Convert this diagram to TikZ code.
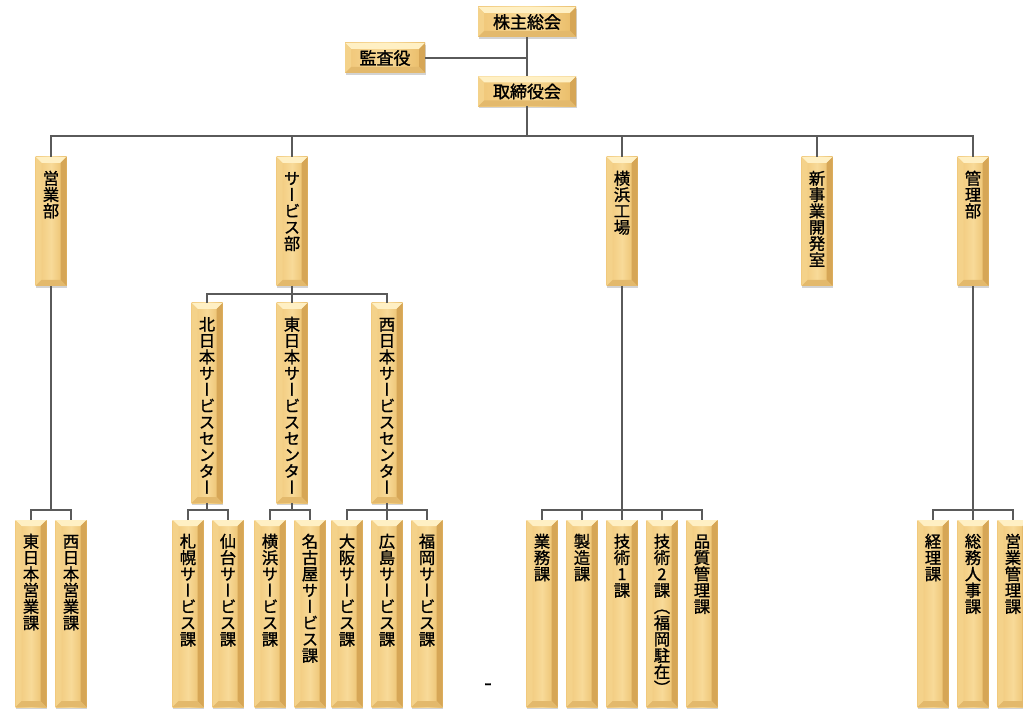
\documentclass[tikz,border=0pt]{standalone}
\usepackage{fontspec}
\setmainfont{Noto Sans CJK JP}
\newfontfamily\jpv[RawFeature=+vert, FakeBold=1.2]{Noto Sans CJK JP}
\newfontfamily\jph[FakeBold=1.4]{Noto Sans CJK JP}
\usetikzlibrary{shadows}
\definecolor{linec}{HTML}{5A5A5A}
\definecolor{gfl}{HTML}{F0C677}
\definecolor{gfm}{HTML}{F8DA98}
\definecolor{gfr}{HTML}{E9BB66}
\definecolor{btop}{HTML}{FFF0C4}
\definecolor{bleft}{HTML}{F4D28A}
\definecolor{bright}{HTML}{D6A656}
\definecolor{bbot}{HTML}{E3B96C}
\def\bv{6pt}
\newcommand\vst[2]{\parbox[c][#1][t]{31pt}{\centering\jpv\fontsize{16.3}{16.3}\selectfont\rule{0pt}{27.5pt}#2\par}}
\tikzset{
  goldbox/.style={inner sep=0pt, outer sep=0pt, draw=none,
    drop shadow={shadow xshift=0.6pt, shadow yshift=-2pt, opacity=0.35},
    path picture={
      \coordinate (pA) at (path picture bounding box.north west);
      \coordinate (pB) at (path picture bounding box.north east);
      \coordinate (pC) at (path picture bounding box.south east);
      \coordinate (pD) at (path picture bounding box.south west);
      \coordinate (qA) at ([xshift=\bv,yshift=-\bv]pA);
      \coordinate (qB) at ([xshift=-\bv,yshift=-\bv]pB);
      \coordinate (qC) at ([xshift=-\bv,yshift=\bv]pC);
      \coordinate (qD) at ([xshift=\bv,yshift=\bv]pD);
      \shade[left color=gfl, right color=gfr, middle color=gfm] (pA) rectangle (pC);
      \fill[btop] (pA) -- (pB) -- (qB) -- (qA) -- cycle;
      \fill[bleft] (pA) -- (qA) -- (qD) -- (pD) -- cycle;
      \fill[bright] (pB) -- (qB) -- (qC) -- (pC) -- cycle;
      \fill[bbot] (pD) -- (qD) -- (qC) -- (pC) -- cycle;
    }},
  hbox/.style={goldbox, minimum height=30pt, font=\jph\fontsize{17}{19}\selectfont},
  vbox/.style={goldbox, minimum width=31pt},
  conn/.style={draw=linec, line width=1.1pt},
}
\begin{document}
\begin{tikzpicture}[x=1pt,y=-1pt]
\useasboundingbox (0,0) rectangle (1023,711);
% top
\node[hbox, minimum width=98pt] (kabu) at (527,22) {株主総会};
\node[hbox, minimum width=80pt] (kansa) at (385,58) {監査役};
\node[hbox, minimum width=98pt] (tori) at (527,91.5) {取締役会};
% level 2
\node[vbox] (eigyo) at (51,221.5) {\vst{129pt}{営\\業\\部}};
\node[vbox] (svc) at (292,221.5) {\vst{129pt}{サ\\ー\\ビ\\ス\\部}};
\node[vbox] (koujo) at (622,221.5) {\vst{129pt}{横\\浜\\工\\場}};
\node[vbox] (shinki) at (817,221.5) {\vst{129pt}{新\\事\\業\\開\\発\\室}};
\node[vbox] (kanri) at (973,221.5) {\vst{129pt}{管\\理\\部}};
% service centers
\node[vbox] (c1) at (207,403) {\vst{200pt}{北\\日\\本\\サ\\ー\\ビ\\ス\\セ\\ン\\タ\\ー}};
\node[vbox] (c2) at (292,403) {\vst{200pt}{東\\日\\本\\サ\\ー\\ビ\\ス\\セ\\ン\\タ\\ー}};
\node[vbox] (c3) at (387,403) {\vst{200pt}{西\\日\\本\\サ\\ー\\ビ\\ス\\セ\\ン\\タ\\ー}};
% bottom
\node[vbox] (e1) at (31,613.5) {\vst{187pt}{東\\日\\本\\営\\業\\課}};
\node[vbox] (e2) at (71,613.5) {\vst{187pt}{西\\日\\本\\営\\業\\課}};
\node[vbox] (s1) at (188,613.5) {\vst{187pt}{札\\幌\\サ\\ー\\ビ\\ス\\課}};
\node[vbox] (s2) at (228,613.5) {\vst{187pt}{仙\\台\\サ\\ー\\ビ\\ス\\課}};
\node[vbox] (s3) at (270,613.5) {\vst{187pt}{横\\浜\\サ\\ー\\ビ\\ス\\課}};
\node[vbox] (s4) at (310,613.5) {\vst{187pt}{名\\古\\屋\\サ\\ー\\ビ\\ス\\課}};
\node[vbox] (s5) at (347,613.5) {\vst{187pt}{大\\阪\\サ\\ー\\ビ\\ス\\課}};
\node[vbox] (s6) at (387,613.5) {\vst{187pt}{広\\島\\サ\\ー\\ビ\\ス\\課}};
\node[vbox] (s7) at (427,613.5) {\vst{187pt}{福\\岡\\サ\\ー\\ビ\\ス\\課}};
\node[vbox] (k1) at (542,613.5) {\vst{187pt}{業\\務\\課}};
\node[vbox] (k2) at (582,613.5) {\vst{187pt}{製\\造\\課}};
\node[vbox] (k3) at (622,613.5) {\vst{187pt}{技\\術\\1\\課}};
\node[vbox] (k4) at (662,613.5) {\vst{187pt}{技\\術\\2\\課\\（\\福\\岡\\駐\\在\\）}};
\node[vbox] (k5) at (702,613.5) {\vst{187pt}{品\\質\\管\\理\\課}};
\node[vbox] (m1) at (933,613.5) {\vst{187pt}{経\\理\\課}};
\node[vbox] (m2) at (973,613.5) {\vst{187pt}{総\\務\\人\\事\\課}};
\node[vbox] (m3) at (1013,613.5) {\vst{187pt}{営\\業\\管\\理\\課}};
\node[font=\jph\fontsize{22}{24}\selectfont, inner sep=0pt] (dash) at (488,687) {-};
% bus coordinates
\coordinate (jb) at (527,58);
\coordinate (mb) at (527,136);
\coordinate (eb) at (51,510);
\coordinate (sb) at (292,294);
\coordinate (c1b) at (207,510);
\coordinate (c2b) at (292,510);
\coordinate (c3b) at (387,510);
\coordinate (kb) at (622,510);
\coordinate (nb) at (973,510);
% connectors
\draw[conn] (kabu.south) -- (tori.north);
\draw[conn] (kansa.east) -- (jb);
\draw[conn] (tori.south) -- (mb);
\draw[conn] (eigyo.north) |- (mb) -| (kanri.north);
\draw[conn] (svc.north) -- (svc.north |- mb);
\draw[conn] (koujo.north) -- (koujo.north |- mb);
\draw[conn] (shinki.north) -- (shinki.north |- mb);
\draw[conn] (eigyo.south) -- (eb);
\draw[conn] (e1.north) |- (eb) -| (e2.north);
\draw[conn] (svc.south) -- (sb);
\draw[conn] (c1.north) |- (sb) -| (c3.north);
\draw[conn] (c2.north) -- (sb);
\draw[conn] (c1.south) -- (c1b);
\draw[conn] (s1.north) |- (c1b) -| (s2.north);
\draw[conn] (c2.south) -- (c2b);
\draw[conn] (s3.north) |- (c2b) -| (s4.north);
\draw[conn] (c3.south) -- (c3b);
\draw[conn] (s5.north) |- (c3b) -| (s7.north);
\draw[conn] (s6.north) -- (c3b);
\draw[conn] (koujo.south) -- (kb);
\draw[conn] (k1.north) |- (kb) -| (k5.north);
\draw[conn] (k2.north) -- (k2.north |- kb);
\draw[conn] (k3.north) -- (kb);
\draw[conn] (k4.north) -- (k4.north |- kb);
\draw[conn] (kanri.south) -- (nb);
\draw[conn] (m1.north) |- (nb) -| (m3.north);
\draw[conn] (m2.north) -- (nb);
\end{tikzpicture}
\end{document}
